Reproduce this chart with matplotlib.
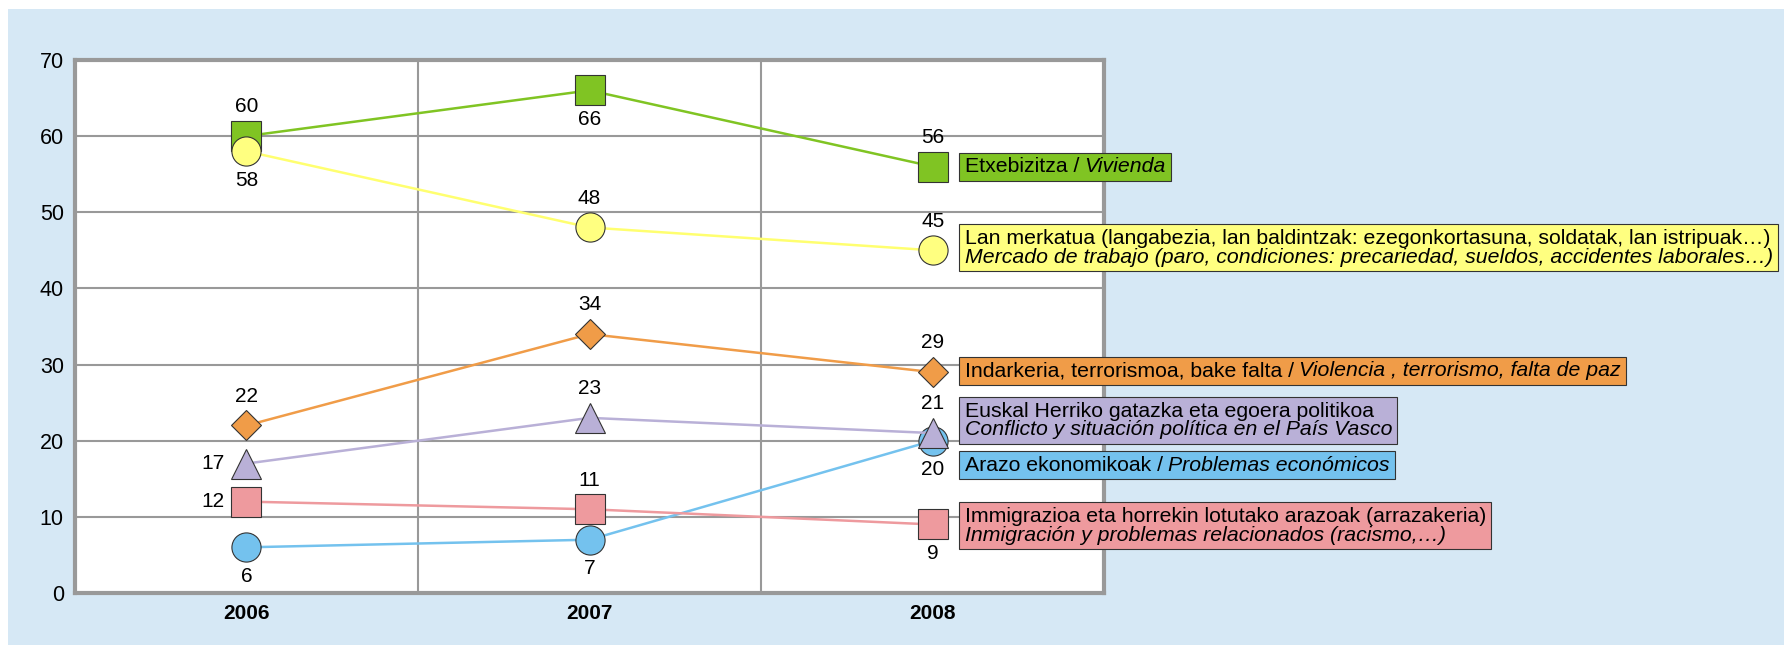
import matplotlib
matplotlib.use("Agg")
import matplotlib.pyplot as plt
from matplotlib.patches import Rectangle
from matplotlib.transforms import Bbox, IdentityTransform
from matplotlib import font_manager

years = ["2006", "2007", "2008"]

etxebizitza = [60, 66, 56]
lan_merkatua = [58, 48, 45]
indarkeria = [22, 34, 29]
gatazka = [17, 23, 21]
ekonomia = [6, 7, 20]
immigrazioa = [12, 11, 9]

# where each value label sits relative to its marker
pos_etxe = ["above", "below", "above"]
pos_lan = ["below", "above", "above"]
pos_ind = ["above", "above", "above"]
pos_gat = ["left", "above", "above"]
pos_eko = ["below", "below", "below"]
pos_imm = ["left", "above", "below"]

# legend box texts (basque, spanish)
txt_etxe = ("Etxebizitza /", "Vivienda")
txt_lan = ("Lan merkatua (langabezia, lan baldintzak: ezegonkortasuna, soldatak, lan istripuak\u2026)",
           "Mercado de trabajo (paro, condiciones: precariedad, sueldos, accidentes laborales\u2026)")
txt_ind = ("Indarkeria, terrorismoa, bake falta /", "Violencia , terrorismo, falta de paz")
txt_gat = ("Euskal Herriko gatazka eta egoera politikoa",
           "Conflicto y situación política en el País Vasco")
txt_eko = ("Arazo ekonomikoak /", "Problemas económicos")
txt_imm = ("Immigrazioa eta horrekin lotutako arazoak (arrazakeria)",
           "Inmigración y problemas relacionados (racismo,\u2026)")

# vertical anchor of each box (data units, shifted to avoid overlap)
box_y = [56, 45.3, 29.2, 22.6, 16.8, 8.8]

names = [f.name for f in font_manager.fontManager.ttflist]
narrow = "Liberation Sans Narrow" if "Liberation Sans Narrow" in names else "Liberation Sans"
plt.rcParams["font.family"] = ["Liberation Sans", "DejaVu Sans"]

series = [
    (etxebizitza, pos_etxe, txt_etxe, True, "#80c423", "#80c423", "s", 21),
    (lan_merkatua, pos_lan, txt_lan, False, "#ffff80", "#ffff70", "o", 21),
    (indarkeria, pos_ind, txt_ind, True, "#f09c48", "#f09c48", "D", 15),
    (ekonomia, pos_eko, txt_eko, True, "#74c2ee", "#74c2ee", "o", 21),
    (immigrazioa, pos_imm, txt_imm, False, "#ee9a9e", "#ee9a9e", "s", 21),
    (gatazka, pos_gat, txt_gat, False, "#b9b0d7", "#b9b0d7", "^", 22),
]
box_order = [txt_etxe, txt_lan, txt_ind, txt_gat, txt_eko, txt_imm]

fig = plt.figure(figsize=(17.84, 6.45), dpi=100, facecolor="white")
fig.add_artist(Rectangle((8 / 1784, 0), 1, 1 - 9 / 645, transform=fig.transFigure,
                         facecolor="#d6e8f5", edgecolor="none", zorder=0))
ax = fig.add_axes([0.042, 0.0806, 0.577, 0.8265])
ax.set_zorder(1)
ax.set_facecolor("white")

x = [0.5, 1.5, 2.5]
ax.set_xlim(0, 3)
ax.set_ylim(0, 70)
ax.set_yticks(range(0, 71, 10))
ax.set_xticks(x)
ax.set_xticklabels(years, fontweight="bold", fontsize=15)
ax.set_xticks([1, 2], minor=True)
ax.tick_params(axis="both", which="both", length=0)
ax.tick_params(axis="y", labelsize=15.5, pad=8)
ax.tick_params(axis="x", pad=8)
ax.grid(True, axis="y", color="#999999", lw=1.5)
ax.grid(True, axis="x", which="minor", color="#999999", lw=1.5)
ax.grid(False, axis="x", which="major")
ax.set_axisbelow(True)
for s in ax.spines.values():
    s.set_color("#999999")
    s.set_linewidth(3)

offs = {"above": (0, 21), "below": (0, -21), "left": (-24, 0)}
for z, (vals, poss, txt, oneline, fc, lc, mk, ms) in enumerate(series):
    ax.plot(x, vals, color=lc, lw=1.8, marker=mk, markersize=ms, markerfacecolor=fc,
            markeredgecolor="#333333", markeredgewidth=0.8, zorder=3 + z)
    for xi, v, p in zip(x, vals, poss):
        ax.annotate(str(v), (xi, v), xytext=offs[p], textcoords="offset points",
                    ha="center", va="center", fontsize=15, zorder=20)

# legend boxes at the right
fs = 15.3
boxes = []
for (vals, poss, txt, oneline, fc, lc, mk, ms) in series:
    yb = box_y[box_order.index(txt)]
    if oneline:
        t1 = ax.annotate(txt[0], (2.5, yb), xytext=(23, -4), textcoords="offset points",
                         ha="left", va="baseline", fontsize=fs, family=narrow,
                         annotation_clip=False, zorder=30)
        t2 = ax.annotate(txt[1], (1, 0), xycoords=t1, xytext=(4, 0), textcoords="offset points",
                         ha="left", va="bottom", fontsize=fs, family=narrow, style="italic",
                         annotation_clip=False, zorder=30)
    else:
        t1 = ax.annotate(txt[0], (2.5, yb), xytext=(23, 3), textcoords="offset points",
                         ha="left", va="baseline", fontsize=fs, family=narrow,
                         annotation_clip=False, zorder=30)
        t2 = ax.annotate(txt[1], (2.5, yb), xytext=(23, -10.5), textcoords="offset points",
                         ha="left", va="baseline", fontsize=fs, family=narrow, style="italic",
                         annotation_clip=False, zorder=30)
    boxes.append((t1, t2, fc))

fig.canvas.draw()
r = fig.canvas.get_renderer()
for t1, t2, fc in boxes:
    bb = Bbox.union([t1.get_window_extent(r), t2.get_window_extent(r)])
    rect = Rectangle((bb.x0 - 6, bb.y0 - 4.5), bb.width + 11, bb.height + 9,
                     transform=IdentityTransform(), facecolor=fc,
                     edgecolor="#333333", lw=0.8, zorder=25, clip_on=False)
    ax.add_artist(rect)

fig.savefig("out.png", dpi=100)
